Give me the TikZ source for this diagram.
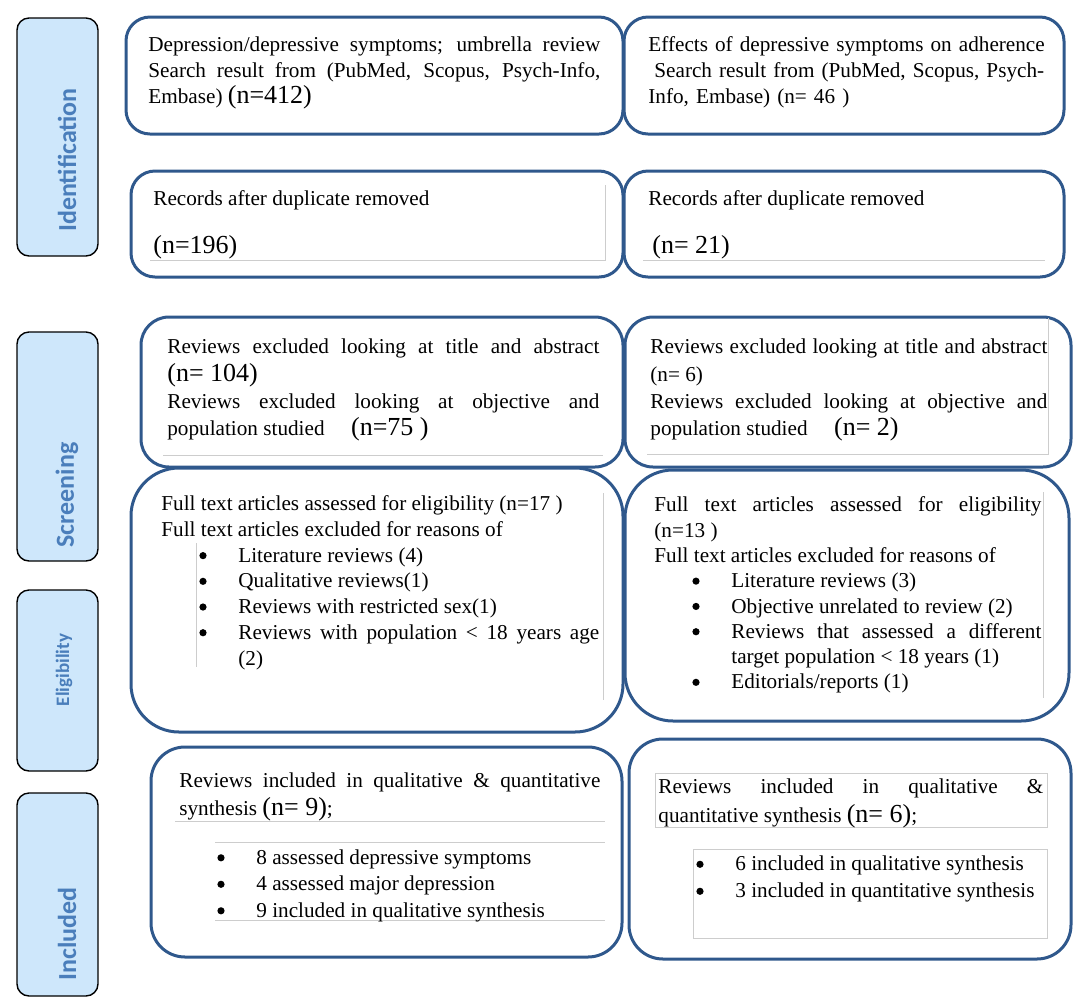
\documentclass[tikz,border=0pt]{standalone}
\usepackage{fontspec}
\setmainfont{Liberation Serif}
\newfontfamily\stagefont{Carlito}
\usetikzlibrary{positioning, calc, fit}
\definecolor{boxblue}{RGB}{47,88,140}
\definecolor{stageblue}{RGB}{74,126,187}
\definecolor{stagefill}{RGB}{206,231,251}
\definecolor{frameline}{RGB}{205,205,205}
\newcommand{\bign}[1]{{\fontsize{13}{13}\selectfont #1}}
\newcommand{\bdot}{\tikz[baseline=-3.3pt]\fill (0,0) circle (1.8pt);}
\newcommand{\bitem}[1]{\par\hangindent=38.5pt\hangafter=1\noindent\hspace*{19pt}\makebox[19.5pt][l]{\bdot}#1}
\tikzset{
        my-panel/.style={
            draw=boxblue, line width=1.5pt, rounded corners=12pt, inner sep=0pt
        },
        my-stage/.style={
            draw=black, fill=stagefill, line width=0.7pt, rounded corners=6pt, inner sep=0pt
        },
        my-stage-text/.style={
            rotate=90, text=stageblue, font=\stagefont\bfseries\fontsize{13}{13}\selectfont
        },
        my-text/.style={
            anchor=north west, inner sep=0pt, align=justify,
            font=\fontsize{10.6}{13}\selectfont,
            execute at begin node=\setlength{\parindent}{0pt}
        },
        my-frame/.style={
            draw=frameline, line width=0.5pt
        },
}
\begin{document}
\begin{tikzpicture}[x=0.5pt, y=-0.5pt]
        \useasboundingbox (0,0) rectangle (1084,1003);

        %DRAW STAGES (left column)
        \node [my-stage, fit={(17,18) (98,256)}]   (ID)  {};
        \node [my-stage, fit={(17,332) (98,561)}]  (SCR) {};
        \node [my-stage, fit={(17,590) (98,771)}]  (ELG) {};
        \node [my-stage, fit={(17,793) (98,996)}]  (INC) {};
        \node [my-stage-text]                                  (IDtxt)  at (67,160) {Identification};
        \node [my-stage-text]                                  (SCRtxt) at (67,495) {Screening};
        \node [my-stage-text, font=\stagefont\bfseries\fontsize{9.5}{9.5}\selectfont] (ELGtxt) at (64,670) {Eligibility};
        \node [my-stage-text]                                  (INCtxt) at (67,934) {Included};

        %DRAW PANELS
        \node [my-panel, fit={(126,17) (623,134)}]                          (SRCHL) {};
        \node [my-panel, fit={(624,17) (1064,134)}]                         (SRCHR) {};
        \node [my-panel, fit={(131,171) (623,277)}]                         (DUPL)  {};
        \node [my-panel, fit={(624,171) (1064,277)}]                        (DUPR)  {};
        \node [my-panel, rounded corners=14pt, fit={(141,317) (623,467)}]   (SCRL)  {};
        \node [my-panel, rounded corners=14pt, fit={(625,317) (1071,467)}]  (SCRR)  {};
        \node [my-panel, rounded corners=24pt, fit={(131,468) (623,732)}]   (FULLL) {};
        \node [my-panel, rounded corners=24pt, fit={(625,470) (1069,721)}]  (FULLR) {};
        \node [my-panel, rounded corners=17pt, fit={(151,747) (622,957)}]   (INCLL) {};
        \node [my-panel, rounded corners=17pt, fit={(629,739) (1071,959)}]  (INCLR) {};

        % FAINT TEXT FRAMES
        \draw [my-frame] (150,260) -- (605,260) -- (605,185);
        \draw [my-frame] (643,260) -- (1045,260);
        \draw [my-frame] (163,455) -- (603,455);
        \draw [my-frame] (647,454) -- (1048,454) -- (1048,318);
        \draw [my-frame] (196,543) -- (196,667);
        \draw [my-frame] (603,493) -- (603,700);
        \draw [my-frame] (1043,492) -- (1043,698);
        \draw [my-frame] (175,821) -- (605,821);
        \draw [my-frame] (215,842) -- (605,842);
        \draw [my-frame] (215,920) -- (605,920);
        \draw [my-frame] (655,773) rectangle (1047,827);
        \draw [my-frame] (693,849) rectangle (1047,938);

        % PANEL TEXTS
        \node [my-text, text width=226pt]   (SRCHLtxt) at (148,36.5)
              {Depression/depressive symptoms; umbrella review\linebreak Search result from (PubMed, Scopus, Psych-Info,\linebreak Embase) \bign{(n=412)}};
        \node [my-text, text width=200pt, align=left] (SRCHRtxt) at (648,36.5)
              {Effects of depressive symptoms on adherence\\ \hspace*{3pt}Search result from (PubMed, Scopus, Psych-\\Info, Embase) (n= 46 )};

        \node [my-text, align=left]   (DUPLtxt) at (153,190.5) {Records after duplicate removed};
        \node [my-text, align=left]   (DUPLn)   at (153,235)   {\bign{(n=196)}};
        \node [my-text, align=left]   (DUPRtxt) at (648,190.5) {Records after duplicate removed};
        \node [my-text, align=left]   (DUPRn)   at (652,235)   {\bign{(n= 21)}};

        \node [my-text, text width=216pt, font=\fontsize{10.6}{13.7}\selectfont] (SCRLtxt) at (167,338.5)
              {Reviews excluded looking at title and abstract\linebreak \bign{(n= 104)}\newline Reviews excluded looking at objective and\linebreak population studied \quad\bign{(n=75 )}};
        \node [my-text, text width=198.5pt, font=\fontsize{10.6}{13.7}\selectfont] (SCRRtxt) at (650,338.5)
              {Reviews excluded looking at title and abstract\linebreak (n= 6)\newline Reviews excluded looking at objective and\linebreak population studied \quad\bign{(n= 2)}};

        \node [my-text, text width=219pt, font=\fontsize{10.6}{12.85}\selectfont] (FULLLtxt) at (161,495.5)
              {Full text articles assessed for eligibility (n=17 )\par
               Full text articles excluded for reasons of
               \bitem{Literature reviews (4)}
               \bitem{Qualitative reviews(1)}
               \bitem{Reviews with restricted sex(1)}
               \bitem{Reviews with population < 18 years age\linebreak (2)}\par};
        \node [my-text, text width=193.5pt, font=\fontsize{10.6}{12.65}\selectfont] (FULLRtxt) at (654,496.5)
              {Full text articles assessed for eligibility\linebreak (n=13 )\par
               Full text articles excluded for reasons of
               \bitem{Literature reviews (3)}
               \bitem{Objective unrelated to review (2)}
               \bitem{Reviews that assessed a different\linebreak target population < 18 years (1)}
               \bitem{Editorials/reports (1)}\par};

        \node [my-text, text width=210.5pt, font=\fontsize{10.6}{14}\selectfont] (INCLLtxt) at (179,772.5)
              {Reviews included in qualitative \& quantitative\linebreak synthesis \bign{(n= 9)};};
        \node [my-text, text width=210.5pt, font=\fontsize{10.6}{13.25}\selectfont] (INCLLlist) at (179,837.5)
              {\bitem{8 assessed depressive symptoms}
               \bitem{4 assessed major depression}
               \bitem{9 included in qualitative synthesis}\par};
        \node [my-text, text width=192.5pt, font=\fontsize{10.6}{14.5}\selectfont] (INCLRtxt) at (658,778.5)
              {Reviews included in qualitative \&\linebreak quantitative synthesis \bign{(n= 6)};};
        \node [my-text, text width=192.5pt, font=\fontsize{10.6}{13.5}\selectfont] (INCLRlist) at (658,843.5)
              {\bitem{6 included in qualitative synthesis}
               \bitem{3 included in quantitative synthesis}\par};

\end{tikzpicture}
\end{document}
